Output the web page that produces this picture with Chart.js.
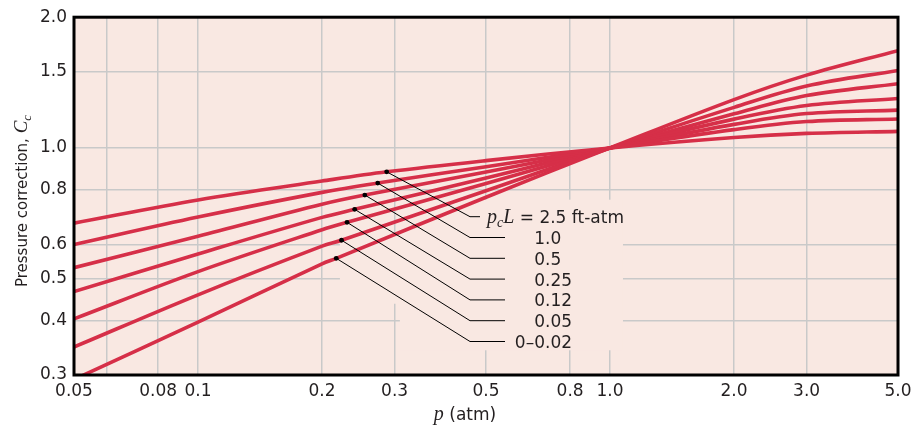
<!DOCTYPE html>
<html>
<head>
<meta charset="utf-8">
<script src="https://cdn.jsdelivr.net/npm/chart.js@4.4.1/dist/chart.umd.min.js"></script>
<style>
    html, body { margin: 0; padding: 0; background: #fff; }
</style>
</head>
<body>
<canvas id="grafico-pressao" width="922" height="426"></canvas>
<script>
// Pressões (atm) onde as curvas foram lidas
const pressoes = [0.05, 0.1, 0.2, 0.5, 1.0, 2.0, 3.0, 5.0];
// Rótulos das curvas (pcL em ft-atm)
const rotulosCurvas = ['2.5', '1.0', '0.5', '0.25', '0.12', '0.05', '0–0.02'];
const curva25 = [0.671, 0.759, 0.839, 0.935, 1.0, 1.057, 1.080, 1.092];
const curva10 = [0.599, 0.693, 0.790, 0.905, 1.0, 1.102, 1.150, 1.166];
const curva05 = [0.530, 0.626, 0.742, 0.880, 1.0, 1.133, 1.200, 1.222];
const curva025 = [0.467, 0.570, 0.692, 0.853, 1.0, 1.165, 1.252, 1.300];
const curva012 = [0.404, 0.519, 0.648, 0.828, 1.0, 1.198, 1.320, 1.406];
const curva005 = [0.348, 0.459, 0.594, 0.797, 1.0, 1.240, 1.389, 1.508];
const curva002 = [0.293, 0.397, 0.541, 0.770, 1.0, 1.292, 1.471, 1.675];
// Ponto onde cada linha de chamada toca a curva
const chamadaP = [0.287, 0.273, 0.254, 0.240, 0.230, 0.223, 0.2165];
const chamadaC = [0.881, 0.830, 0.779, 0.722, 0.674, 0.613, 0.557];
// Ticks dos eixos
const ticksX = [0.05, 0.06, 0.08, 0.1, 0.2, 0.3, 0.5, 0.8, 1, 2, 3, 5];
const rotulosX = ['0.05', '', '0.08', '0.1', '0.2', '0.3', '0.5', '0.8', '1.0', '2.0', '3.0', '5.0'];
const ticksY = [0.3, 0.4, 0.5, 0.6, 0.8, 1.0, 1.5, 2.0];
const rotulosY = ['0.3', '0.4', '0.5', '0.6', '0.8', '1.0', '1.5', '2.0'];

const VERMELHO = '#d62f48';
const FUNDO = '#f9e8e2';
const TEXTO = '#231f20';
const SANS = '"DejaVu Sans", sans-serif';
const SERIF = '"Liberation Serif", serif';

const curvas = [curva25, curva10, curva05, curva025, curva012, curva005, curva002];

// Monta os pontos de cada curva (inclui o ponto da chamada)
const datasets = curvas.map((valores, i) => {
    const pts = pressoes.map((p, k) => ({ x: p, y: valores[k] }));
    pts.push({ x: chamadaP[i], y: chamadaC[i] });
    pts.sort((a, b) => a.x - b.x);
    return {
        label: rotulosCurvas[i],
        data: pts,
        borderColor: VERMELHO,
        borderWidth: 3.6,
        pointRadius: 0,
        tension: 0.35,
        clip: 0,
        fill: false
    };
});

// Escreve texto com partes em fontes diferentes (itálico, subscrito)
function escrevePartes(ctx, partes, x, y, alinhar) {
    let total = 0;
    partes.forEach(p => { ctx.font = p.font; total += ctx.measureText(p.t).width; });
    let cx = alinhar === 'center' ? x - total / 2 : x;
    partes.forEach(p => {
        ctx.font = p.font;
        ctx.fillText(p.t, cx, y + (p.dy || 0));
        cx += ctx.measureText(p.t).width;
    });
}

const decoracao = {
    id: 'decoracao',
    beforeDraw(chart) {
        const { ctx, chartArea: a } = chart;
        ctx.save();
        ctx.fillStyle = FUNDO;
        ctx.fillRect(a.left, a.top, a.right - a.left, a.bottom - a.top);
        ctx.restore();
    },
    beforeDatasetsDraw(chart) {
        // esconde a grade atrás da legenda
        const { ctx, scales: { x, y } } = chart;
        ctx.save();
        ctx.fillStyle = FUNDO;
        const ret = (p0, p1, c0, c1) => {
            const x0 = x.getPixelForValue(p0), x1 = x.getPixelForValue(p1);
            const y0 = y.getPixelForValue(c0), y1 = y.getPixelForValue(c1);
            ctx.fillRect(x0, y0, x1 - x0, y1 - y0);
        };
        ret(0.309, 1.075, 0.76, 0.342);
        ret(0.221, 0.31, 0.636, 0.4377);
        ctx.restore();
    },
    afterDatasetsDraw(chart) {
        const { ctx, chartArea: a, scales: { x, y } } = chart;
        ctx.save();

        // linhas de chamada e rótulos
        const cotovelo = a.left + 396;
        const decimal = a.left + 471;
        ctx.strokeStyle = '#000';
        ctx.lineWidth = 1;
        ctx.fillStyle = TEXTO;
        ctx.textBaseline = 'alphabetic';
        ctx.textAlign = 'left';
        rotulosCurvas.forEach((r, i) => {
            const px = x.getPixelForValue(chamadaP[i]);
            const py = y.getPixelForValue(chamadaC[i]);
            const ly = a.top + 199.5 + i * 20.8;
            const fim = i === 0 ? a.left + 406 : a.left + 431;
            ctx.beginPath();
            ctx.moveTo(px, py);
            ctx.lineTo(cotovelo, ly);
            ctx.lineTo(fim, ly);
            ctx.stroke();
            ctx.beginPath();
            ctx.arc(px, py, 2.4, 0, Math.PI * 2);
            ctx.fillStyle = '#000';
            ctx.fill();
            ctx.fillStyle = TEXTO;
            if (i === 0) {
                escrevePartes(ctx, [
                    { t: 'p', font: 'italic 20px ' + SERIF },
                    { t: 'c', font: 'italic 14px ' + SERIF, dy: 4 },
                    { t: 'L', font: 'italic 20px ' + SERIF },
                    { t: ' = ' + r + ' ft-atm', font: '17px ' + SANS }
                ], a.left + 413, ly + 6.5, 'left');
            } else {
                ctx.font = '17px ' + SANS;
                const antes = r.slice(0, r.indexOf('.'));
                ctx.fillText(r, decimal - ctx.measureText(antes).width, ly + 6.5);
            }
        });

        // moldura
        ctx.strokeStyle = '#000';
        ctx.lineWidth = 3;
        ctx.strokeRect(a.left, a.top, a.right - a.left, a.bottom - a.top);

        // títulos dos eixos
        ctx.fillStyle = TEXTO;
        escrevePartes(ctx, [
            { t: 'p', font: 'italic 20px ' + SERIF },
            { t: ' (atm)', font: '17px ' + SANS }
        ], 465, 420, 'center');

        ctx.translate(27, 201);
        ctx.rotate(-Math.PI / 2);
        escrevePartes(ctx, [
            { t: 'Pressure correction, ', font: '15px ' + SANS },
            { t: 'C', font: 'italic 19px ' + SERIF },
            { t: 'c', font: 'italic 13px ' + SERIF, dy: 4 }
        ], 0, 0, 'center');
        ctx.restore();
    }
};

new Chart(document.getElementById('grafico-pressao'), {
    type: 'line',
    data: { datasets },
    options: {
        responsive: false,
        animation: false,
        layout: { padding: { top: 14, right: 24, left: 0, bottom: 0 } },
        plugins: {
            legend: { display: false },
            title: { display: false },
            tooltip: { enabled: false }
        },
        scales: {
            x: {
                type: 'logarithmic',
                min: 0.05,
                max: 5,
                afterBuildTicks: s => { s.ticks = ticksX.map(v => ({ value: v })); },
                afterFit: s => { s.height = 51; },
                border: { display: false },
                grid: { color: '#c9c9c9', lineWidth: 1.5, drawTicks: false },
                ticks: {
                    autoSkip: false,
                    maxRotation: 0,
                    padding: 6,
                    color: TEXTO,
                    font: { family: 'DejaVu Sans', size: 17 },
                    callback: (v, i) => rotulosX[i]
                }
            },
            y: {
                type: 'logarithmic',
                min: 0.3,
                max: 2.0,
                afterBuildTicks: s => { s.ticks = ticksY.map(v => ({ value: v })); },
                afterFit: s => { s.width = 74; },
                border: { display: false },
                grid: { color: '#c9c9c9', lineWidth: 1.5, drawTicks: false },
                ticks: {
                    autoSkip: false,
                    padding: 7,
                    color: TEXTO,
                    font: { family: 'DejaVu Sans', size: 17 },
                    callback: (v, i) => rotulosY[i]
                }
            }
        }
    },
    plugins: [decoracao]
});
</script>
</body>
</html>
